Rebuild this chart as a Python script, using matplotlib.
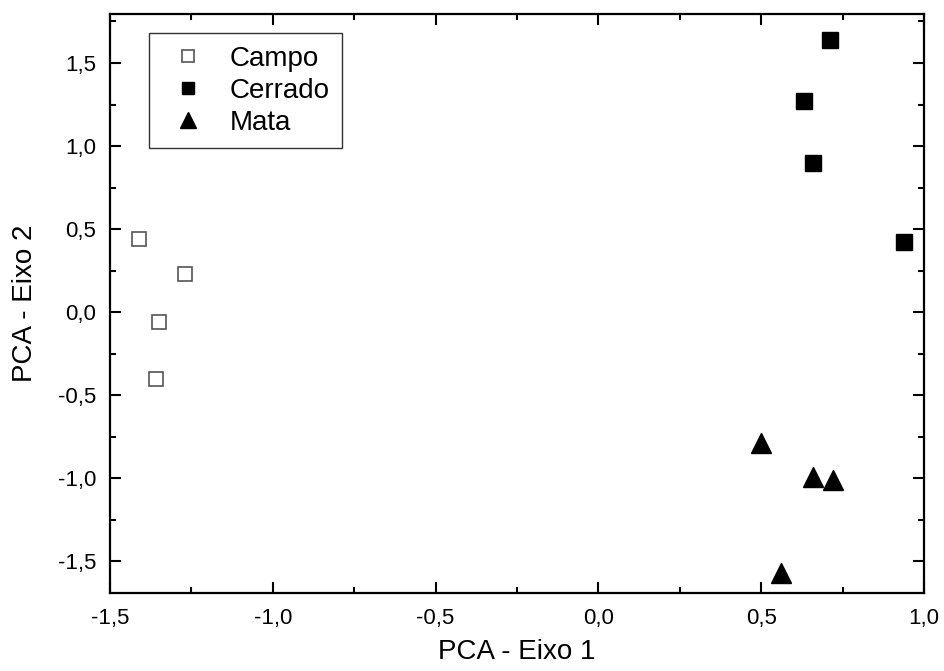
import matplotlib
matplotlib.use('Agg')
import matplotlib.pyplot as plt
from matplotlib.ticker import MultipleLocator, FuncFormatter

plt.rcParams['font.family'] = ['Liberation Sans', 'DejaVu Sans']

# PCA scores
campo_x = [-1.41, -1.27, -1.35, -1.36]
campo_y = [0.44, 0.23, -0.06, -0.40]

cerrado_x = [0.71, 0.63, 0.66, 0.94]
cerrado_y = [1.64, 1.27, 0.90, 0.42]

mata_x = [0.50, 0.66, 0.72, 0.56]
mata_y = [-0.79, -0.99, -1.01, -1.57]

fig = plt.figure(figsize=(9.44, 6.71), dpi=100)
ax = fig.add_axes([110/944, 1 - 593/671, 814/944, 579/671])

ax.plot(campo_x, campo_y, 's', ms=10.5, mfc='white', mec='#555555', mew=1.2, ls='none', label='Campo')
ax.plot(cerrado_x, cerrado_y, 's', ms=11, mfc='black', mec='black', ls='none', label='Cerrado')
ax.plot(mata_x, mata_y, '^', ms=14, mfc='black', mec='black', ls='none', label='Mata')

ax.set_xlim(-1.5, 1.0)
ax.set_ylim(-1.69, 1.795)

comma = FuncFormatter(lambda v, p: ('%.1f' % v).replace('.', ','))
ax.xaxis.set_major_locator(MultipleLocator(0.5))
ax.xaxis.set_minor_locator(MultipleLocator(0.25))
ax.yaxis.set_major_locator(MultipleLocator(0.5))
ax.yaxis.set_minor_locator(MultipleLocator(0.25))
ax.xaxis.set_major_formatter(comma)
ax.yaxis.set_major_formatter(comma)

ax.tick_params(which='both', direction='in', top=True, right=True, width=1.5, labelsize=16)
ax.tick_params(axis='x', which='major', length=8, pad=11)
ax.tick_params(axis='y', which='major', length=8, pad=10)
ax.tick_params(which='minor', length=4.5)
for s in ax.spines.values():
    s.set_linewidth(1.6)

ax.set_xlabel('PCA - Eixo 1', fontsize=20, labelpad=7)
ax.set_ylabel('PCA - Eixo 2', fontsize=20, labelpad=14)

leg = ax.legend(loc='upper left', bbox_to_anchor=((149-110)/814, (593-33)/579),
                fontsize=20, frameon=True, fancybox=False, edgecolor='black',
                borderpad=0.45, handletextpad=0.55, labelspacing=0.22, handlelength=1.9,
                markerscale=0.85, borderaxespad=0)
leg.get_frame().set_linewidth(1.0)

fig.savefig('out.png', dpi=100)
